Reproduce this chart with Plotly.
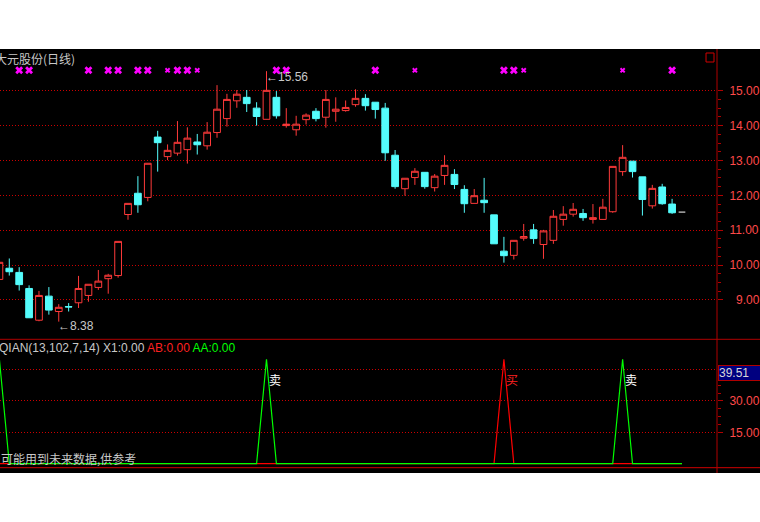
import numpy as np
import plotly.graph_objects as go

# ---------------- data ----------------
title_text = "大元股份(日线)"
opens = [9.59, 9.91, 9.79, 9.33, 8.42, 9.11, 8.67, 8.81, 8.92, 9.13,
         9.36, 9.61, 9.70, 11.45, 12.06, 11.94, 13.67, 13.11, 13.21, 13.31,
         13.53, 13.42, 13.80, 14.20, 14.71, 14.81, 14.50, 14.18, 14.81, 14.00,
         13.88, 14.17, 14.41, 14.24, 14.41, 14.43, 14.60, 14.78, 14.67, 14.50,
         13.15, 12.19, 12.51, 12.66, 12.22, 12.57, 12.60, 12.17, 11.77, 11.86,
         11.44, 10.40, 10.28, 10.77, 11.01, 10.59, 10.71, 11.31, 11.46, 11.48,
         11.31, 11.31, 11.53, 12.68, 12.98, 12.53, 11.70, 12.24, 11.75, 11.52]
highs = [10.10, 10.19, 9.94, 9.42, 9.26, 9.37, 8.88, 8.91, 9.69, 9.45,
         9.86, 9.75, 10.68, 11.77, 12.55, 12.92, 13.85, 13.46, 14.13, 13.95,
         13.76, 14.10, 15.16, 14.91, 15.02, 15.02, 14.67, 15.56, 14.99, 14.50,
         14.28, 14.35, 14.50, 15.02, 14.81, 14.72, 15.04, 14.90, 14.67, 14.65,
         13.30, 12.49, 12.78, 12.66, 12.61, 13.15, 12.75, 12.29, 12.18, 12.50,
         11.44, 10.81, 10.71, 11.18, 11.18, 11.01, 11.58, 11.69, 11.78, 11.61,
         11.75, 11.90, 12.83, 13.44, 12.98, 12.53, 12.30, 12.33, 11.90, 11.52]
lows = [9.55, 9.70, 9.27, 8.49, 8.39, 8.58, 8.38, 8.67, 8.77, 8.95,
        9.29, 9.18, 9.64, 11.30, 11.50, 11.83, 12.68, 13.01, 13.14, 12.91,
        13.17, 13.31, 13.65, 13.97, 14.51, 14.39, 14.00, 14.18, 14.20, 13.94,
        13.71, 14.03, 14.12, 13.94, 14.11, 14.40, 14.54, 14.43, 14.20, 12.99,
        12.19, 11.99, 12.30, 12.19, 12.11, 12.30, 12.18, 11.50, 11.77, 11.50,
        10.61, 10.07, 10.16, 10.70, 10.61, 10.18, 10.61, 11.13, 11.39, 11.27,
        11.19, 11.31, 11.50, 12.56, 12.51, 11.42, 11.62, 11.73, 11.47, 11.52]
closes = [10.08, 9.81, 9.44, 8.49, 9.13, 8.71, 8.79, 8.80, 9.33, 9.45,
          9.54, 9.71, 10.68, 11.77, 11.73, 12.92, 13.51, 13.29, 13.52, 13.64,
          13.45, 13.81, 14.47, 14.75, 14.90, 14.63, 14.26, 15.01, 14.28, 14.04,
          14.04, 14.30, 14.20, 14.75, 14.47, 14.52, 14.78, 14.57, 14.46, 13.22,
          12.25, 12.49, 12.69, 12.25, 12.55, 12.86, 12.31, 11.76, 11.99, 11.79,
          10.61, 10.27, 10.71, 10.82, 10.76, 10.98, 11.40, 11.46, 11.60, 11.36,
          11.36, 11.66, 12.83, 13.09, 12.68, 11.88, 12.20, 11.76, 11.50, 11.52]

big_marks = [2, 3, 9, 11, 12, 14, 15, 18, 19, 28, 29, 38, 51, 52, 68]
small_marks = [17, 20, 42, 53, 63]

sell_days = [0, 27, 63]     # AA (green) spikes, labelled 卖
buy_days = [51]             # AB (red) spikes, labelled 买
signal_peak = 50.0

price_ticks = [9, 10, 11, 12, 13, 14, 15]
sub_ticks = [15, 30, 45]
sub_tick_labels = ["15.00", "30.00", ""]
indicator_name = "QIAN(13,102,7,14)"
x1_value, ab_value, aa_value = 0.00, 0.00, 0.00
cursor_value = 39.51
warn_text = "可能用到未来数据,供参考"

# ---------------- styling ----------------
W, H = 760, 522
ML, MR, MT, MB = 0, 41, 49, 54
PW, PH = W - ML - MR, H - MT - MB
RED_C = "#ff3a3a"
CYAN_C = "#54fcfc"
GRID_C = "#cc0000"
AX_C = "#b00000"
LBL_C = "#ff4a4a"
TXT_C = "#c8c8c8"
CJK = "Noto Sans CJK SC"
LAT = "Liberation Sans"

def px_y(p):  # pixel row -> paper y
    return (H - MB - p) / PH

def px_x(p):
    return (p - ML) / PW

split = px_y(339.3)
n = len(opens)
days = np.arange(n)
o, h, l, c = map(np.array, (opens, highs, lows, closes))
moving = o != c

fig = go.Figure()

fig.add_trace(go.Candlestick(
    x=days[moving], open=o[moving], high=h[moving], low=l[moving], close=c[moving],
    increasing=dict(line=dict(color=RED_C, width=1), fillcolor="#000000"),
    decreasing=dict(line=dict(color=CYAN_C, width=1), fillcolor=CYAN_C),
    xaxis="x", yaxis="y", showlegend=False, hoverinfo="skip"))

# flat (one-price) days drawn as a short white dash
fx, fy = [], []
for d in days[~moving]:
    fx += [d - 0.34, d + 0.34, None]
    fy += [c[d], c[d], None]
fig.add_trace(go.Scatter(x=fx, y=fy, mode="lines", line=dict(color="#ffffff", width=1),
                         xaxis="x", yaxis="y", showlegend=False, hoverinfo="skip"))

mark_level = 15.585
fig.add_trace(go.Scatter(x=big_marks, y=[mark_level] * len(big_marks), mode="markers",
                         marker=dict(symbol="x", size=7, color="#ff00ff", line=dict(width=0)),
                         xaxis="x", yaxis="y", showlegend=False, hoverinfo="skip"))
fig.add_trace(go.Scatter(x=small_marks, y=[mark_level] * len(small_marks), mode="markers",
                         marker=dict(symbol="x", size=5, color="#ff00ff", line=dict(width=0)),
                         xaxis="x", yaxis="y", showlegend=False, hoverinfo="skip"))

ab = np.zeros(n)
ab[buy_days] = signal_peak
aa = np.zeros(n)
aa[sell_days] = signal_peak
fig.add_trace(go.Scatter(x=days, y=ab, mode="lines", line=dict(color="#ff0000", width=1.2),
                         xaxis="x", yaxis="y2", showlegend=False, hoverinfo="skip"))
fig.add_trace(go.Scatter(x=days, y=aa, mode="lines", line=dict(color="#00ff00", width=1.2),
                         xaxis="x", yaxis="y2", showlegend=False, hoverinfo="skip"))

# ---------------- annotations ----------------
ann = []
ann.append(dict(xref="paper", yref="paper", x=px_x(-7), y=px_y(58.5), xanchor="left", yanchor="middle",
                text=title_text, showarrow=False, font=dict(family=CJK, size=12, color=TXT_C)))
imax = int(np.argmax(h))
imin = int(np.argmin(l))
ann.append(dict(xref="x", yref="y", x=imax, y=h[imax], xanchor="left", yanchor="top", xshift=-3, yshift=3,
                text="←%.2f" % h[imax], showarrow=False, font=dict(family=LAT, size=12, color=TXT_C)))
ann.append(dict(xref="x", yref="y", x=imin, y=l[imin], xanchor="left", yanchor="top", xshift=-3, yshift=5,
                text="←%.2f" % l[imin], showarrow=False, font=dict(family=LAT, size=12, color=TXT_C)))
ann.append(dict(xref="paper", yref="paper", x=px_x(-3), y=px_y(347.5), xanchor="left", yanchor="middle",
                showarrow=False, font=dict(family=LAT, size=12, color=TXT_C),
                text=(f"{indicator_name} X1:{x1_value:.2f} "
                      f"<span style='color:#ff2020'>AB:{ab_value:.2f}</span> "
                      f"<span style='color:#00ff00'>AA:{aa_value:.2f}</span>")))
ann.append(dict(xref="paper", yref="paper", x=px_x(-1), y=px_y(458), xanchor="left", yanchor="middle",
                text=warn_text, showarrow=False, font=dict(family=CJK, size=12, color=TXT_C)))
for d in sell_days:
    ann.append(dict(xref="x", yref="y2", x=d, y=signal_peak, xanchor="left", yanchor="middle",
                    xshift=0, yshift=-20, text="卖", showarrow=False,
                    font=dict(family=CJK, size=12, color="#ffffff")))
for d in buy_days:
    ann.append(dict(xref="x", yref="y2", x=d, y=signal_peak, xanchor="left", yanchor="middle",
                    xshift=0, yshift=-20, text="买", showarrow=False,
                    font=dict(family=CJK, size=12, color="#ff2020")))
ann.append(dict(xref="paper", yref="paper", x=px_x(720), y=px_y(373), xanchor="left", yanchor="middle",
                text="%.2f" % cursor_value, showarrow=False, align="left", width=44,
                bgcolor="#000080", bordercolor="#b00000", borderwidth=1, borderpad=0,
                font=dict(family=LAT, size=12, color="#d8d8d8")))

# ---------------- shapes ----------------
shapes = []
shapes.append(dict(type="line", xref="paper", yref="paper", x0=0, x1=px_x(W + 5), y0=split, y1=split,
                   line=dict(color=AX_C, width=1)))
shapes.append(dict(type="line", xref="paper", yref="paper", x0=0, x1=px_x(W + 5), y0=px_y(467.7), y1=px_y(467.7),
                   line=dict(color="#d00000", width=1)))
shapes.append(dict(type="line", xref="paper", yref="paper", x0=1, x1=1, y0=px_y(MT), y1=px_y(474),
                   line=dict(color=AX_C, width=1)))
shapes.append(dict(type="rect", xref="paper", yref="paper", x0=px_x(708), x1=px_x(716), y0=px_y(53), y1=px_y(62),
                   line=dict(color="#d00000", width=1)))
shapes.append(dict(type="rect", xref="paper", yref="paper", x0=px_x(-5), x1=px_x(W + 5), y0=px_y(-5), y1=px_y(49),
                   fillcolor="#ffffff", line=dict(width=0), layer="above"))
shapes.append(dict(type="rect", xref="paper", yref="paper", x0=px_x(-5), x1=px_x(W + 5), y0=px_y(473), y1=px_y(H + 5),
                   fillcolor="#ffffff", line=dict(width=0), layer="above"))

main_minor = [v for v in np.arange(9.25, 15.0, 0.25) if abs(v - round(v)) > 1e-6]
sub_minor = [18.75, 22.5, 26.25, 33.75, 37.5, 41.25]

# pixel -> value mappings for axis ranges
def price_at(p):
    return 15 - (p - 90.7) / 34.88

def sub_at(p):
    return (463.6 - p) / 2.087

fig.update_layout(
    width=W, height=H, margin=dict(l=ML, r=MR, t=MT, b=MB, pad=0),
    paper_bgcolor="#000000", plot_bgcolor="#000000",
    showlegend=False, boxgap=0.32, boxgroupgap=0.0,
    xaxis=dict(domain=[0, 1], anchor="y2", range=[(0 + 0.6) / 9.92, (PW + 0.6) / 9.92],
               showgrid=False, zeroline=False, showticklabels=False, ticks="",
               showline=False, rangeslider=dict(visible=False), fixedrange=True),
    yaxis=dict(domain=[split, 1], anchor="x", side="right",
               range=[price_at(339.3), price_at(MT)],
               tickmode="array", tickvals=price_ticks,
               ticktext=[("\u2007" if v < 10 else "") + "%.2f" % v for v in price_ticks],
               ticks="outside", ticklen=5, tickcolor=AX_C, tickwidth=1,
               tickfont=dict(family=LAT, size=12, color=LBL_C), ticklabelstandoff=4,
               showgrid=True, gridcolor=GRID_C, gridwidth=1, griddash="1px,2px",
               minor=dict(tickmode="array", tickvals=main_minor, ticks="outside", ticklen=3,
                          tickcolor=AX_C, showgrid=False),
               zeroline=False, showline=False, fixedrange=True),
    yaxis2=dict(domain=[0, split], anchor="x", side="right",
                range=[sub_at(H - MB), sub_at(339.3)],
                tickmode="array", tickvals=sub_ticks, ticktext=sub_tick_labels,
                ticks="outside", ticklen=5, tickcolor=AX_C, tickwidth=1,
                tickfont=dict(family=LAT, size=12, color=LBL_C), ticklabelstandoff=4,
                showgrid=True, gridcolor=GRID_C, gridwidth=1, griddash="1px,2px",
                minor=dict(tickmode="array", tickvals=sub_minor, ticks="outside", ticklen=3,
                           tickcolor=AX_C, showgrid=False),
                zeroline=False, showline=False, fixedrange=True),
    annotations=ann, shapes=shapes,
)

fig.write_html("out.html", config={"displayModeBar": False},
               post_script="document.body.style.margin='0';document.body.style.overflow='hidden';")
